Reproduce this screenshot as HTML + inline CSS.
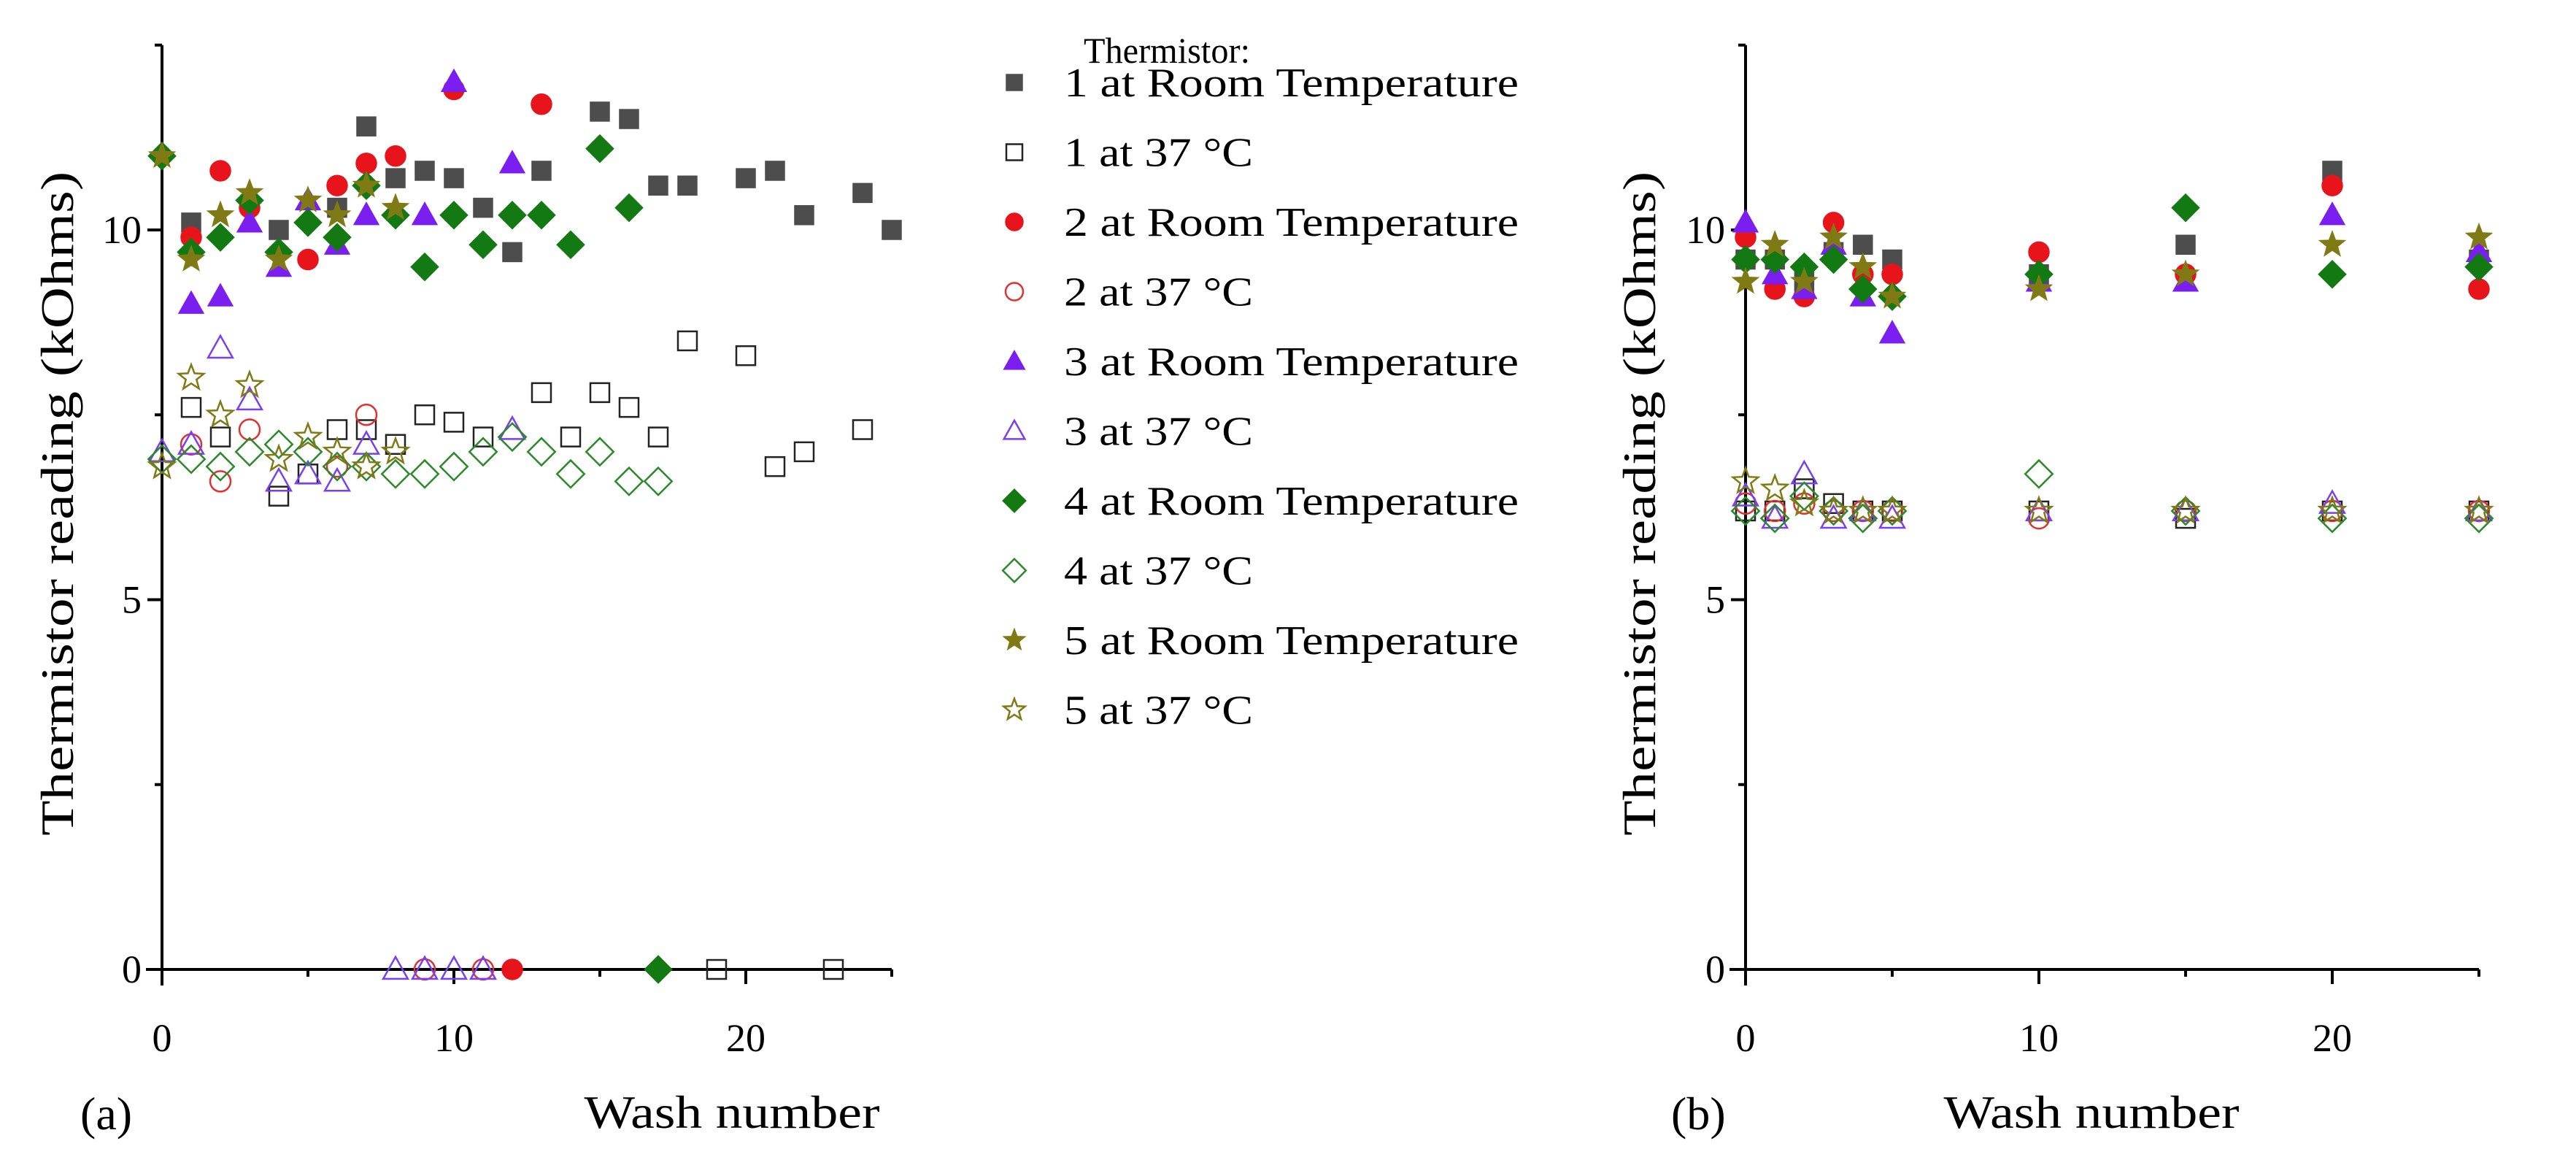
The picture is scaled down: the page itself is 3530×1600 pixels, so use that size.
<!DOCTYPE html>
<html><head><meta charset="utf-8"><style>
html,body{margin:0;padding:0;background:#fff;}
svg{display:block;font-family:"Liberation Serif",serif;}
</style></head><body>
<svg id="fig" width="3530" height="1600" viewBox="0 0 3530 1600" xmlns="http://www.w3.org/2000/svg">
<rect width="3530" height="1600" fill="#fff"/>
<g id="panelA"></g>
<g id="panelB"></g>
<g id="legend"></g>
</svg>
<script>
const seriesNames = ["1 at Room Temperature","1 at 37 °C","2 at Room Temperature","2 at 37 °C","3 at Room Temperature","3 at 37 °C","4 at Room Temperature","4 at 37 °C","5 at Room Temperature","5 at 37 °C"];
const xTicks = [0,10,20];
const yTicks = [0,5,10];
// Panel (a) data: [wash, kOhms]
const a1RT = [[1,10.1],[4,10.0],[6,10.3],[7,11.4],[8,10.7],[9,10.8],[10,10.7],[11,10.3],[12,9.7],[13,10.8],[15,11.6],[16,11.5],[17,10.6],[18,10.6],[20,10.7],[21,10.8],[22,10.2],[24,10.5],[25,10.0]];
const a137 = [[1,7.6],[2,7.2],[4,6.4],[5,6.7],[6,7.3],[7,7.3],[8,7.1],[9,7.5],[10,7.4],[11,7.2],[13,7.8],[14,7.2],[15,7.8],[16,7.6],[17,7.2],[18,8.5],[19,0],[20,8.3],[21,6.8],[22,7.0],[23,0],[24,7.3]];
const a2RT = [[1,9.9],[2,10.8],[3,10.3],[5,9.6],[6,10.6],[7,10.9],[8,11.0],[10,11.9],[12,0],[13,11.7]];
const a237 = [[1,7.1],[2,6.6],[3,7.3],[6,6.8],[7,7.5],[9,0],[11,0]];
const a3RT = [[1,9.0],[2,9.1],[3,10.1],[4,9.5],[5,10.4],[6,9.8],[7,10.2],[9,10.2],[10,12.0],[12,10.9]];
const a337 = [[0,7.0],[1,7.1],[2,8.4],[3,7.7],[4,6.6],[5,6.7],[6,6.6],[7,7.1],[8,0],[9,0],[10,0],[11,0],[12,7.3]];
const a4RT = [[0,11.0],[1,9.7],[2,9.9],[3,10.4],[4,9.7],[5,10.1],[6,9.9],[7,10.6],[8,10.2],[9,9.5],[10,10.2],[11,9.8],[12,10.2],[13,10.2],[14,9.8],[15,11.1],[16,10.3],[17,0]];
const a437 = [[0,6.9],[1,6.9],[2,6.8],[3,7.0],[4,7.1],[5,7.0],[6,6.8],[7,6.8],[8,6.7],[9,6.7],[10,6.8],[11,7.0],[12,7.2],[13,7.0],[14,6.7],[15,7.0],[16,6.6],[17,6.6]];
const a5RT = [[0,11.0],[1,9.6],[2,10.2],[3,10.5],[4,9.6],[5,10.4],[6,10.2],[7,10.6],[8,10.3]];
const a537 = [[0,6.8],[1,8.0],[2,7.5],[3,7.9],[4,6.9],[5,7.2],[6,7.0],[7,6.8],[8,7.0]];
// Panel (b) data
const bWash = [0,1,2,3,4,5,10,15,20,25];
const b1RT = [9.6,9.6,9.3,9.7,9.8,9.6,9.4,9.8,10.8,9.6];
const b137 = [6.2,6.2,6.5,6.3,6.2,6.2,6.2,6.1,6.2,6.2];
const b2RT = [9.9,9.2,9.1,10.1,9.4,9.4,9.7,9.4,10.6,9.2];
const b237 = [6.3,6.2,6.3,6.2,6.2,6.2,6.1,6.2,6.2,6.2];
const b3RT = [10.1,9.4,9.2,9.8,9.1,8.6,9.3,9.3,10.2,9.7];
const b337 = [6.4,6.1,6.7,6.1,6.2,6.1,6.2,6.2,6.3,6.2];
const b4RT = [9.6,9.6,9.5,9.6,9.2,9.1,9.4,10.3,9.4,9.5];
const b437 = [6.2,6.1,6.4,6.2,6.1,6.2,6.7,6.2,6.1,6.1];
const b5RT = [9.3,9.8,9.3,9.9,9.5,9.1,9.2,9.4,9.8,9.9];
const b537 = [6.6,6.5,6.3,6.2,6.2,6.2,6.2,6.2,6.2,6.2];

const NS="http://www.w3.org/2000/svg";
function mk(tag,attrs,parent){const e=document.createElementNS(NS,tag);for(const k in attrs)e.setAttribute(k,attrs[k]);if(parent)parent.appendChild(e);return e;}
const styles=[
 {shape:"square",fill:"#4d4d4d",stroke:"#4d4d4d"},
 {shape:"square",fill:"none",stroke:"#222"},
 {shape:"circle",fill:"#e8141c",stroke:"#e8141c"},
 {shape:"circle",fill:"none",stroke:"#e03030"},
 {shape:"tri",fill:"#7a1ff0",stroke:"#7a1ff0"},
 {shape:"tri",fill:"none",stroke:"#7a3ff0"},
 {shape:"diamond",fill:"#137a13",stroke:"#137a13"},
 {shape:"diamond",fill:"none",stroke:"#2a8a2a"},
 {shape:"star",fill:"#807a14",stroke:"#807a14"},
 {shape:"star",fill:"none",stroke:"#807a14"}];
function marker(g,cx,cy,st,s){
 let e;const sw=st.fill==="none"?2.5:1.5;
 if(st.shape==="square")e=mk("rect",{x:cx-s/2,y:cy-s/2,width:s,height:s},g);
 else if(st.shape==="circle")e=mk("circle",{cx:cx,cy:cy,r:s/2+1},g);
 else if(st.shape==="tri"){const h=s*1.1;e=mk("polygon",{points:`${cx},${cy-h*0.6} ${cx-s*0.65},${cy+h*0.45} ${cx+s*0.65},${cy+h*0.45}`},g);}
 else if(st.shape==="diamond"){const r=s*0.72;e=mk("polygon",{points:`${cx},${cy-r} ${cx+r},${cy} ${cx},${cy+r} ${cx-r},${cy}`},g);}
 else {const R=s*0.7,r=R*0.42;let p=[];for(let i=0;i<10;i++){const a=-Math.PI/2+i*Math.PI/5,rr=i%2?r:R;p.push((cx+rr*Math.cos(a)).toFixed(1)+","+(cy+rr*Math.sin(a)).toFixed(1));}e=mk("polygon",{points:p.join(" ")},g);}
 e.setAttribute("fill",st.fill);e.setAttribute("stroke",st.stroke);e.setAttribute("stroke-width",sw);
 return e;
}
function axes(g,x0,unitX,y0,unitY,xLabX,labelLetter,letterX,yTitleX){
 const X=v=>x0+v*unitX, Y=v=>y0-v*unitY;
 const ax=mk("g",{},g);
 
 
 mk("line",{x1:X(0)-22,y1:Y(0),x2:X(25),y2:Y(0),stroke:"#000","stroke-width":4},ax);
 mk("line",{x1:X(0),y1:Y(0)+22,x2:X(0),y2:Y(12.5),stroke:"#000","stroke-width":4},ax);
 for(let v=0;v<=25;v+=5){const maj=v%10===0;mk("line",{x1:X(v),y1:Y(0),x2:X(v),y2:Y(0)+(maj?20:10),stroke:"#000","stroke-width":4},ax);}
 for(let v=0;v<=12.5;v+=2.5){const maj=v%5===0;mk("line",{x1:X(0),y1:Y(v),x2:X(0)-(maj?20:10),y2:Y(v),stroke:"#000","stroke-width":4},ax);}
 xTicks.forEach(v=>{const t=mk("text",{x:X(v),y:Y(0)+112,"text-anchor":"middle","font-size":54},ax);t.textContent=v;
  
  });
 yTicks.forEach(v=>{const t=mk("text",{x:X(0)-28,y:Y(v)+18,"text-anchor":"end","font-size":54},ax);t.textContent=v;
  
  });
 const yt=mk("text",{x:yTitleX,y:Y(6.3),"text-anchor":"middle","font-size":64,textLength:910,lengthAdjust:"spacingAndGlyphs",transform:`rotate(-90 ${yTitleX} ${Y(6.3)})`},ax);
 yt.textContent="Thermistor reading (kOhms)";
 
 
 const xt=mk("text",{x:xLabX,y:1545,"text-anchor":"middle","font-size":64,textLength:405,lengthAdjust:"spacingAndGlyphs"},ax);
 xt.textContent="Wash number";
 
 
 const lt=mk("text",{x:letterX,y:1547,"font-size":64},ax);
 lt.textContent=labelLetter;
 
 
 return {X,Y};
}
const gA=document.getElementById("panelA");
const A=axes(gA,222,40,1328,101.3,1003,"(a)",110,100);
const aSeries=[a1RT,a137,a2RT,a237,a3RT,a337,a4RT,a437,a5RT,a537];
aSeries.forEach((s,i)=>{s.forEach(p=>{const m=marker(gA,A.X(p[0]),A.Y(p[1]),styles[i],26);
 
 });});
const gB=document.getElementById("panelB");
const B=axes(gB,2392,40.2,1328,101.3,2866,"(b)",2290,2268);
const bSeries=[b1RT,b137,b2RT,b237,b3RT,b337,b4RT,b437,b5RT,b537];
bSeries.forEach((s,i)=>{s.forEach((v,j)=>{const m=marker(gB,B.X(bWash[j]),B.Y(v),styles[i],26);
 
 });});
const gL=document.getElementById("legend");
const tt=mk("text",{x:1485,y:86,"font-size":50,textLength:228,lengthAdjust:"spacingAndGlyphs"},gL);
tt.textContent="Thermistor:";


seriesNames.forEach((n,i)=>{const cy=113+i*95.5;
 const e=mk("g",{},gL);
 
 
 marker(e,1390,cy,styles[i],22);
 const long=n.indexOf("Room")>=0;
 const t=mk("text",{x:1458,y:cy+19,"font-size":56,textLength:long?623:259,lengthAdjust:"spacingAndGlyphs"},e);t.textContent=n;});
</script>
</body></html>
